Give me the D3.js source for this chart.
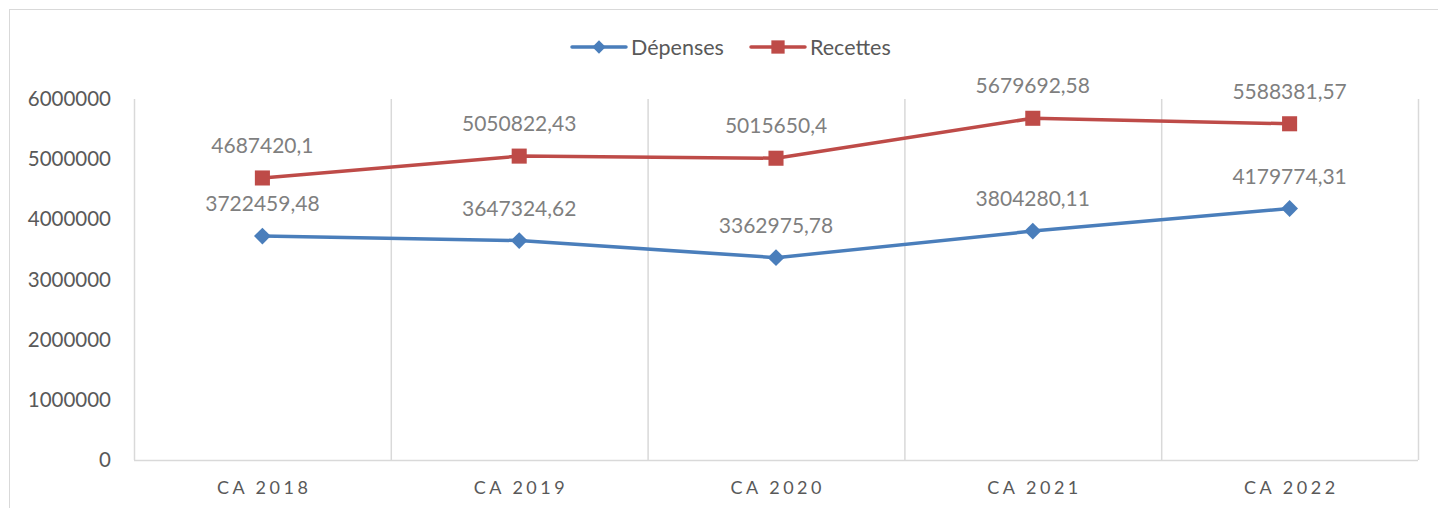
<!DOCTYPE html>
<html><head><meta charset="utf-8">
<script src="https://cdn.jsdelivr.net/npm/d3@7"></script>
<style>body{margin:0;background:#fff;} text{font-family:Lato,"Open Sans",sans-serif;}</style>
</head><body><svg id="c" width="1438" height="508"></svg>
<script>
const categories = ["CA 2018","CA 2019","CA 2020","CA 2021","CA 2022"];
const depenses = [3722459.48, 3647324.62, 3362975.78, 3804280.11, 4179774.31];
const recettes = [4687420.1, 5050822.43, 5015650.4, 5679692.58, 5588381.57];
const depensesLabels = ["3722459,48","3647324,62","3362975,78","3804280,11","4179774,31"];
const recettesLabels = ["4687420,1","5050822,43","5015650,4","5679692,58","5588381,57"];
const yTicks = [0,1000000,2000000,3000000,4000000,5000000,6000000];

const svg = d3.select("#c");
svg.append("rect").attr("x",9.5).attr("y",9.5).attr("width",1440).attr("height",520)
  .attr("fill","#fff").attr("stroke","#d9d9d9").attr("stroke-width",1);

const x = d3.scaleBand().domain(categories).range([134,1418]).padding(0);
const y = d3.scaleLinear().domain([0,6000000]).range([460,99]);

const bounds = categories.map(c=>x(c)).concat([x.range()[1]]);
svg.selectAll(".vg").data(bounds).enter().append("line")
  .attr("x1",d=>d+0.5).attr("x2",d=>d+0.5).attr("y1",y(6000000)).attr("y2",y(0))
  .attr("stroke","#d9d9d9").attr("stroke-width",1.5);
svg.append("line").attr("x1",x.range()[0]).attr("x2",x.range()[1])
  .attr("y1",y(0)+0.5).attr("y2",y(0)+0.5).attr("stroke","#d9d9d9").attr("stroke-width",1.5);

svg.selectAll(".yt").data(yTicks).enter().append("text")
  .attr("x",111).attr("y",d=>y(d)+7).attr("text-anchor","end")
  .attr("font-size",20.5).attr("fill","#595959").text(d=>d3.format("d")(d));

svg.selectAll(".xt").data(categories).enter().append("text")
  .attr("x",d=>x(d)+x.bandwidth()/2+1.75).attr("y",494).attr("text-anchor","middle")
  .attr("font-size",18).attr("letter-spacing","3.5px").attr("fill","#595959").text(d=>d);

const cx = i => x(categories[i]) + x.bandwidth()/2;
const line = d3.line().x((d,i)=>cx(i)).y(d=>y(d));

const series = [
  {vals:depenses, labels:depensesLabels, color:"#4a7ebb", sym:d3.symbolDiamond2, size:180},
  {vals:recettes, labels:recettesLabels, color:"#be4b48", sym:d3.symbolSquare2, size:289}
];
series.forEach(s=>{
  svg.append("path").datum(s.vals).attr("d",line).attr("fill","none")
    .attr("stroke",s.color).attr("stroke-width",3.5).attr("stroke-linejoin","round");
  svg.selectAll(null).data(s.vals).enter().append("path")
    .attr("d",d3.symbol(s.sym,s.size)())
    .attr("transform",(d,i)=>`translate(${cx(i)},${y(d)})`).attr("fill",s.color);
  svg.selectAll(null).data(s.vals).enter().append("text")
    .attr("x",(d,i)=>cx(i)).attr("y",d=>y(d)-25).attr("text-anchor","middle")
    .attr("font-size",21).attr("fill","#7f7f7f").text((d,i)=>s.labels[i]);
});

const legend = [
  {name:"Dépenses", color:"#4a7ebb", sym:d3.symbolDiamond2, size:112, x:572},
  {name:"Recettes", color:"#be4b48", sym:d3.symbolSquare2, size:225, x:751}
];
legend.forEach(l=>{
  const g = svg.append("g").attr("transform",`translate(${l.x},47)`);
  g.append("line").attr("x1",0).attr("x2",54).attr("y1",0).attr("y2",0)
    .attr("stroke",l.color).attr("stroke-width",3.5).attr("stroke-linecap","round");
  g.append("path").attr("d",d3.symbol(l.sym,l.size)()).attr("transform","translate(27,0)").attr("fill",l.color);
  g.append("text").attr("x",59).attr("y",7.5).attr("font-size",21.5).attr("fill","#595959").text(l.name);
});
</script></body></html>
